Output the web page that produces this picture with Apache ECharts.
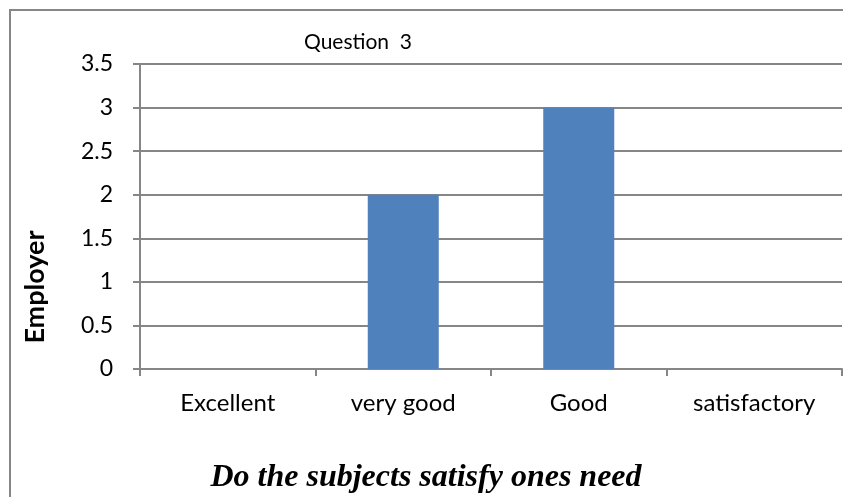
<!DOCTYPE html>
<html><head><meta charset="utf-8">
<script src="https://cdn.jsdelivr.net/npm/echarts@6/dist/echarts.min.js"></script>
<style>html,body{margin:0;padding:0;background:#fff}#c{width:843px;height:497px}</style>
</head><body><div id="c"></div>
<script>
const categories = ['Excellent', 'very good', 'Good', 'satisfactory'];
const values = [0, 2, 3, 0];
const yTicks = [0, 0.5, 1, 1.5, 2, 2.5, 3, 3.5];
const titleText = 'Question  3';
const yName = 'Employer';
const xName = 'Do the subjects satisfy ones need';

const chart = echarts.init(document.getElementById('c'));
chart.setOption({
  animation: false,
  title: { text: titleText, left: 353, top: 37, textAlign: 'center', textVerticalAlign: 'middle',
    textStyle: { fontFamily: 'Lato', fontWeight: 'normal', fontSize: 21, color: '#000' } },
  grid: { left: 140, right: 1, top: 64, bottom: 128, containLabel: false },
  xAxis: {
    type: 'category', data: categories,
    axisLine: { lineStyle: { color: '#868686', width: 2 } },
    axisTick: { show: true, length: 7, lineStyle: { color: '#868686', width: 2 } },
    axisLabel: { fontFamily: 'Lato', fontSize: 24, color: '#000', margin: 22 }
  },
  yAxis: {
    type: 'value', min: 0, max: 3.5, interval: 0.5,
    axisLine: { show: true, lineStyle: { color: '#868686', width: 2 } },
    axisTick: { show: true, length: 7, lineStyle: { color: '#868686', width: 2 } },
    splitLine: { lineStyle: { color: '#868686', width: 2 } },
    axisLabel: { fontFamily: 'Lato', fontSize: 23, color: '#000', margin: 27,
      formatter: v => yTicks.includes(v) ? String(v) : '' }
  },
  series: [{ type: 'bar', data: values, barWidth: 71, itemStyle: { color: '#4F81BD' } }],
  graphic: [
    { type: 'rect', shape: { x: 10, y: 10, width: 845, height: 500 }, style: { fill: 'none', stroke: '#868686', lineWidth: 2 }, silent: true },
    { type: 'text', x: 35, y: 287, rotation: Math.PI / 2, style: { text: yName, fontFamily: 'Lato', fontWeight: 'bold', fontSize: 27, fill: '#000', align: 'center', verticalAlign: 'middle' } },
    { type: 'text', x: 426, y: 478, style: { text: xName, fontFamily: 'Liberation Serif', fontWeight: 'bold', fontStyle: 'italic', fontSize: 32, fill: '#000', align: 'center', verticalAlign: 'middle' } }
  ]
});
</script></body></html>
